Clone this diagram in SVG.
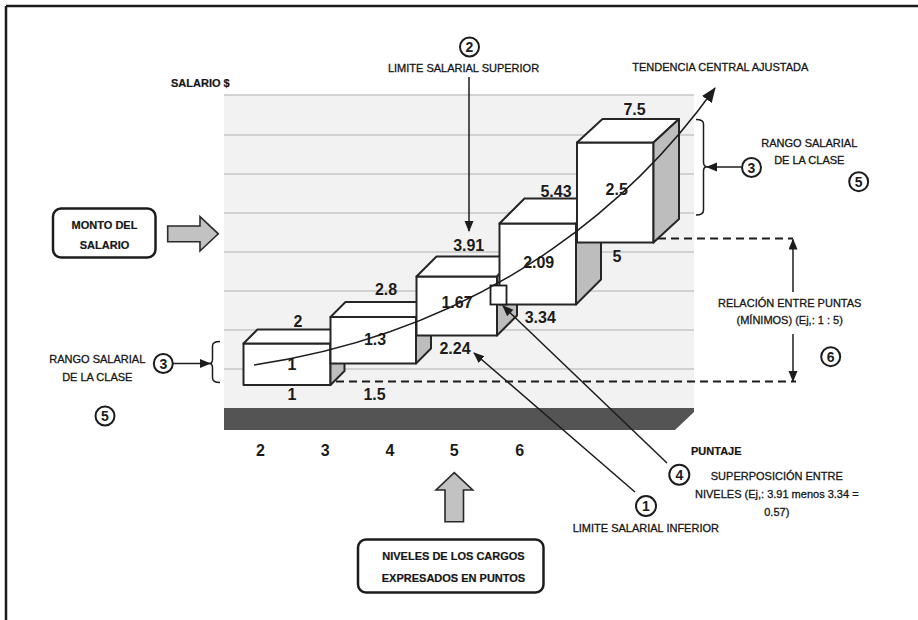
<svg xmlns="http://www.w3.org/2000/svg" width="918" height="620" viewBox="0 0 918 620">
  <style>
    .lbl { font-family: "Liberation Sans", Arial, sans-serif; font-size: 11px; fill: #161616; stroke: #161616; stroke-width: 0.3; }
    .b { font-weight: bold; stroke-width: 0.2; }
    .num { font-family: "Liberation Sans", Arial, sans-serif; font-size: 16px; font-weight: bold; fill: #1c1c1c; text-anchor: middle; }
    .mid { text-anchor: middle; }
    .grid { stroke: #c6c6c6; stroke-width: 1.5; }
    .front { fill: #ffffff; stroke: #262626; stroke-width: 2; stroke-linejoin: round; }
    .side { fill: #bdbdbd; stroke: #262626; stroke-width: 2; stroke-linejoin: round; }
    .ring { fill: #ffffff; stroke: #1c1c1c; stroke-width: 2; }
    .ringtxt { font-family: "Liberation Sans", Arial, sans-serif; font-size: 14px; font-weight: bold; fill: #1c1c1c; text-anchor: middle; }
    .ln { stroke: #1c1c1c; stroke-width: 1.5; fill: none; }
    .dash { stroke: #1c1c1c; stroke-width: 2; stroke-dasharray: 8 5; fill: none; }
    .callout { fill: #ffffff; stroke: #1c1c1c; stroke-width: 2.5; }
    .block { fill: #c2c2c2; stroke: #2a2a2a; stroke-width: 1.6; stroke-linejoin: miter; }
  </style>
  <defs>
    <marker id="tri" markerUnits="userSpaceOnUse" markerWidth="11" markerHeight="10" refX="10" refY="4.5" orient="auto">
      <path d="M0,0 L11,4.5 L0,9 Z" fill="#1c1c1c"/>
    </marker>
    <marker id="triBig" markerUnits="userSpaceOnUse" markerWidth="15" markerHeight="13" refX="14" refY="6" orient="auto">
      <path d="M0,0 L15,6 L0,12 Z" fill="#1c1c1c"/>
    </marker>
  </defs>

  <!-- frame edges -->
  <line x1="6" y1="6" x2="918" y2="6" stroke="#1c1c1c" stroke-width="2.5"/>
  <line x1="6" y1="6" x2="6" y2="620" stroke="#1c1c1c" stroke-width="2.5"/>

  <!-- plot area -->
  <g id="plot">
    <rect x="224" y="95" width="470" height="313" fill="#f2f2f2"/>
    <g class="grid">
      <line x1="224" y1="95" x2="694" y2="95"/>
      <line x1="224" y1="135" x2="694" y2="135"/>
      <line x1="224" y1="174" x2="694" y2="174"/>
      <line x1="224" y1="213" x2="694" y2="213"/>
      <line x1="224" y1="252" x2="694" y2="252"/>
      <line x1="224" y1="291" x2="694" y2="291"/>
      <line x1="224" y1="330" x2="694" y2="330"/>
      <line x1="224" y1="369" x2="694" y2="369"/>
    </g>
    <path d="M224,408 L694,408 L694,412 L675,430 L224,430 Z" fill="#545454"/>
    <text class="lbl b" x="171" y="87" font-size="12">SALARIO $</text>
  </g>

  <!-- salary class boxes -->
  <g id="clase1">
    <rect class="front" x="243.5" y="343.5" width="87" height="41.5"/>
    <path class="front" d="M243.5,343.5 L257.5,329.5 L344.5,329.5 L330.5,343.5 Z"/>
    <path class="side" d="M330.5,343.5 L344.5,329.5 L344.5,371 L330.5,385 Z"/>
  </g>
  <g id="clase2">
    <rect class="front" x="330.5" y="317" width="85.5" height="46.5"/>
    <path class="front" d="M330.5,317 L345.5,302 L431,302 L416,317 Z"/>
    <path class="side" d="M416,317 L431,302 L431,348.5 L416,363.5 Z"/>
  </g>
  <g id="clase3">
    <rect class="front" x="416.5" y="276.5" width="80.5" height="59"/>
    <path class="front" d="M416.5,276.5 L436.5,256.5 L517,256.5 L497,276.5 Z"/>
    <path class="side" d="M497,276.5 L517,256.5 L517,315.5 L497,335.5 Z"/>
  </g>
  <g id="clase4">
    <rect class="front" x="499.5" y="223.5" width="76.5" height="81"/>
    <path class="front" d="M499.5,223.5 L524.5,198.5 L601,198.5 L576,223.5 Z"/>
    <path class="side" d="M576,223.5 L601,198.5 L601,279.5 L576,304.5 Z"/>
  </g>
  <g id="clase5">
    <rect class="front" x="577" y="142.5" width="76.5" height="100"/>
    <path class="front" d="M577,142.5 L602.5,119 L679,119 L653.5,142.5 Z"/>
    <path class="side" d="M653.5,142.5 L679,119 L679,219 L653.5,242.5 Z"/>
  </g>

  <!-- overlap marker -->
  <g id="solape">
    <rect x="490.5" y="285.5" width="16" height="19" fill="#ffffff" stroke="#1c1c1c" stroke-width="1.8"/>
  </g>

  <!-- connectors -->
  <g id="connectors">
    <path class="ln" d="M254,365 C504,327.5 645,186 715,88" marker-end="url(#triBig)"/>
    <line class="ln" x1="469" y1="77" x2="469" y2="231" marker-end="url(#tri)"/>
    <line class="ln" x1="635" y1="492" x2="474" y2="353" marker-end="url(#tri)"/>
    <line class="ln" x1="667" y1="463" x2="503" y2="306" marker-end="url(#tri)"/>
    <line class="ln" x1="173" y1="363.5" x2="210" y2="363.5" marker-end="url(#tri)"/>
    <line class="ln" x1="741.5" y1="167" x2="707" y2="167" marker-end="url(#tri)"/>
    <line class="ln" x1="793" y1="292" x2="793" y2="239.5" marker-end="url(#tri)"/>
    <line class="ln" x1="793" y1="334" x2="793" y2="381" marker-end="url(#tri)"/>
    <line class="dash" x1="658" y1="238.5" x2="793" y2="238.5"/>
    <line class="dash" x1="336" y1="381.5" x2="796" y2="381.5"/>
    <!-- braces -->
    <path class="ln" d="M220,341.5 Q212.5,341.5 212.5,346 L212.5,359 Q212.5,363.5 209.5,363.5 Q212.5,363.5 212.5,368 L212.5,378 Q212.5,382.5 220,382.5"/>
    <path class="ln" d="M696,119.5 Q703.5,119.5 703.5,124 L703.5,162 Q703.5,166.7 707,166.7 Q703.5,166.7 703.5,171 L703.5,210 Q703.5,215 696,215"/>
  </g>

  <!-- values -->
  <g id="valores">
    <text class="num" x="298" y="327">2</text>
    <text class="num" x="292" y="370">1</text>
    <text class="num" x="292" y="399.5">1</text>
    <text class="num" x="386" y="295">2.8</text>
    <text class="num" x="375" y="345">1.3</text>
    <text class="num" x="374.5" y="399.5">1.5</text>
    <text class="num" x="468.7" y="250.7">3.91</text>
    <text class="num" x="457" y="307.7">1.67</text>
    <text class="num" x="455" y="354.3">2.24</text>
    <text class="num" x="556" y="196.7">5.43</text>
    <text class="num" x="538.7" y="268.3">2.09</text>
    <text class="num" x="540.3" y="323.3">3.34</text>
    <text class="num" x="634.5" y="115">7.5</text>
    <text class="num" x="616.7" y="195">2.5</text>
    <text class="num" x="617" y="261.7">5</text>
  </g>

  <!-- points axis -->
  <g id="eje">
    <text class="num" x="260.5" y="456">2</text>
    <text class="num" x="325.3" y="456">3</text>
    <text class="num" x="390" y="456">4</text>
    <text class="num" x="454.3" y="456">5</text>
    <text class="num" x="519.7" y="456">6</text>
    <text class="lbl b" x="691" y="455">PUNTAJE</text>
  </g>

  <!-- top labels -->
  <g id="limite-superior">
    <circle class="ring" cx="469.5" cy="47" r="9.5"/>
    <text class="ringtxt" x="469.5" y="52">2</text>
    <text class="lbl mid" x="463.5" y="72">LIMITE SALARIAL SUPERIOR</text>
  </g>
  <g id="tendencia">
    <text class="lbl" x="632.3" y="71">TENDENCIA CENTRAL AJUSTADA</text>
  </g>

  <!-- salary amount callout -->
  <g id="monto">
    <rect class="callout" x="53" y="208.5" width="102.5" height="49" rx="8"/>
    <text class="lbl b mid" x="104.5" y="228.5" font-size="13">MONTO DEL</text>
    <text class="lbl b mid" x="104.5" y="248.5" font-size="13">SALARIO</text>
    <path class="block" d="M167.7,226 L200,226 L200,216.7 L218.3,233.8 L200,251 L200,241.7 L167.7,241.7 Z"/>
  </g>

  <!-- class range left -->
  <g id="rango-izq">
    <text class="lbl mid" x="97.3" y="363.3">RANGO SALARIAL</text>
    <text class="lbl mid" x="97.3" y="381">DE LA CLASE</text>
    <circle class="ring" cx="163.3" cy="363.5" r="9.5"/>
    <text class="ringtxt" x="163.3" y="368.5">3</text>
    <circle class="ring" cx="105" cy="416" r="9.5"/>
    <text class="ringtxt" x="105" y="421">5</text>
  </g>

  <!-- class range right -->
  <g id="rango-der">
    <circle class="ring" cx="751.5" cy="167.5" r="9.5"/>
    <text class="ringtxt" x="751.5" y="172.5">3</text>
    <text class="lbl mid" x="809.3" y="146.7">RANGO SALARIAL</text>
    <text class="lbl mid" x="809.3" y="164">DE LA CLASE</text>
    <circle class="ring" cx="858.7" cy="181.7" r="9.5"/>
    <text class="ringtxt" x="858.7" y="186.7">5</text>
  </g>

  <!-- ratio between minimums -->
  <g id="relacion">
    <text class="lbl mid" x="789.7" y="306.7">RELACIÓN ENTRE PUNTAS</text>
    <text class="lbl mid" x="789.7" y="324">(MÍNIMOS) (Ej,: 1 : 5)</text>
    <circle class="ring" cx="830.7" cy="356.7" r="9.5"/>
    <text class="ringtxt" x="830.7" y="361.7">6</text>
  </g>

  <!-- overlap note -->
  <g id="superposicion">
    <circle class="ring" cx="679.3" cy="474.7" r="10"/>
    <text class="ringtxt" x="679.3" y="479.7">4</text>
    <text class="lbl mid" x="776.8" y="480">SUPERPOSICIÓN ENTRE</text>
    <text class="lbl mid" x="776.8" y="498.3">NIVELES (Ej,: 3.91 menos 3.34 =</text>
    <text class="lbl mid" x="776.8" y="516">0.57)</text>
  </g>

  <!-- lower limit -->
  <g id="limite-inferior">
    <circle class="ring" cx="646" cy="506" r="10"/>
    <text class="ringtxt" x="646" y="511">1</text>
    <text class="lbl mid" x="645.8" y="531.7">LIMITE SALARIAL INFERIOR</text>
  </g>

  <!-- job levels callout -->
  <g id="niveles">
    <path class="block" d="M445,521.7 L445,490 L436,490 L454.3,472.7 L472.7,490 L463.5,490 L463.5,521.7 Z"/>
    <rect class="callout" x="358" y="539.5" width="185.5" height="53" rx="8"/>
    <text class="lbl b mid" x="453.5" y="560" font-size="12">NIVELES DE LOS CARGOS</text>
    <text class="lbl b mid" x="453.5" y="581.7" font-size="12">EXPRESADOS EN PUNTOS</text>
  </g>
</svg>
